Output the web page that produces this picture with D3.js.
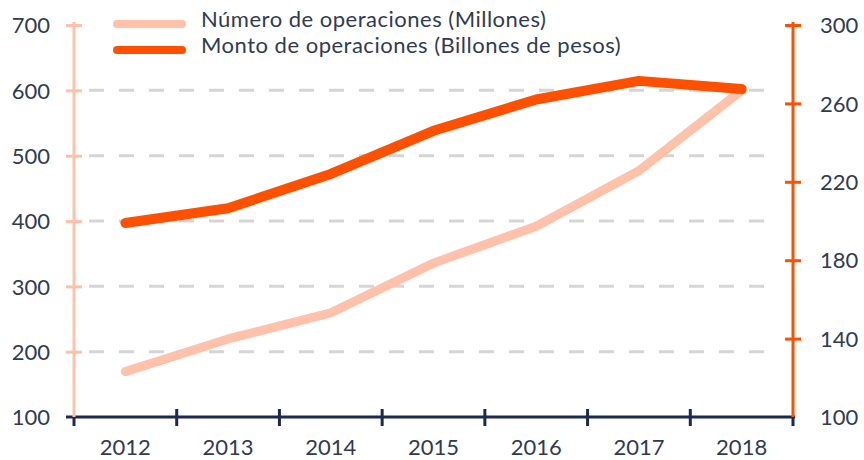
<!DOCTYPE html>
<html lang="es">
<head>
<meta charset="UTF-8">
<title>Operaciones</title>
<script src="https://d3js.org/d3.v7.min.js"></script>
<style>
    body { margin: 0; background: #fff; }
    svg text { font-family: Lato, "Open Sans", sans-serif; fill: #2f3b52; }
</style>
</head>
<body>
<div id="chart"></div>
<script>
    // datos
    const years = ["2012", "2013", "2014", "2015", "2016", "2017", "2018"];
    const numeroOps = [169.5, 219.5, 259.5, 335.5, 392, 477, 600];   // millones (eje izq.)
    const montoOps = [199, 206.5, 224, 246, 262, 271.5, 267.3];      // billones de pesos (eje der.)
    const leftTicks = [100, 200, 300, 400, 500, 600, 700];
    const rightTicks = [100, 140, 180, 220, 260, 300];
    const gridTicks = [200, 300, 400, 500, 600];
    const seriesNames = ["Número de operaciones (Millones)", "Monto de operaciones (Billones de pesos)"];

    const width = 864, height = 460;
    const mLeft = 74, mRight = 793, mTop = 22, mBottom = 417;
    const colLight = "#ffc1a9", colDark = "#ff5000", colAxis = "#1b2a4e";
    const fs = "22px";

    const svg = d3.select("#chart").append("svg")
        .attr("width", width).attr("height", height);

    const x = d3.scaleBand().domain(years).range([mLeft, mRight]);
    const yL = d3.scaleLinear().domain([100, 700]).range([mBottom, 25]);
    const yR = d3.scaleLinear().domain([100, 300]).range([mBottom, 25]);

    // rejilla punteada
    svg.append("g").selectAll("line").data(gridTicks).enter().append("line")
        .attr("x1", 89).attr("x2", 776)
        .attr("y1", d => yL(d)).attr("y2", d => yL(d))
        .attr("stroke", "#d5d5d5").attr("stroke-width", 3)
        .attr("stroke-dasharray", "15,15");

    // eje x
    const gx = svg.append("g");
    gx.append("line").attr("x1", 66).attr("x2", mRight + 2)
        .attr("y1", mBottom).attr("y2", mBottom)
        .attr("stroke", colAxis).attr("stroke-width", 3);
    const bounds = years.map(d => x(d)).concat([mRight]);
    gx.selectAll(".bt").data(bounds).enter().append("line")
        .attr("x1", d => d).attr("x2", d => d)
        .attr("y1", (d, i) => (i === 0 || i === bounds.length - 1) ? mBottom : mBottom - 8)
        .attr("y2", mBottom + 9)
        .attr("stroke", colAxis).attr("stroke-width", 3);
    gx.selectAll(".lbl").data(years).enter().append("text")
        .attr("x", d => x(d) + x.bandwidth() / 2).attr("y", 455)
        .attr("text-anchor", "middle").style("font-size", fs)
        .text(d => d);

    // eje izquierdo
    const axL = svg.append("g").attr("transform", `translate(${mLeft},0)`)
        .call(d3.axisLeft(yL).tickValues(leftTicks).tickSize(8).tickFormat(d3.format("d")));
    axL.select(".domain").attr("d", `M0,${mTop}V${mBottom}`)
        .attr("stroke", colLight).attr("stroke-width", 3);
    axL.selectAll(".tick line").attr("x1", 8).attr("x2", -8)
        .attr("stroke", colLight).attr("stroke-width", 3);
    axL.selectAll(".tick text").attr("x", -24).attr("dy", "0.35em")
        .style("font-size", fs).attr("font-family", null).attr("fill", null);

    // eje derecho
    const axR = svg.append("g").attr("transform", `translate(${mRight},0)`)
        .call(d3.axisRight(yR).tickValues(rightTicks).tickSize(8).tickFormat(d3.format("d")));
    axR.select(".domain").attr("d", `M0,${mTop}V${mBottom}`)
        .attr("stroke", colDark).attr("stroke-width", 3);
    axR.selectAll(".tick line").attr("x1", -8).attr("x2", 8)
        .attr("stroke", colDark).attr("stroke-width", 3);
    axR.selectAll(".tick text").attr("x", 27).attr("dy", "0.35em")
        .style("font-size", fs).attr("font-family", null).attr("fill", null);
    svg.selectAll(".tick").filter(d => d === 100).select("line").remove();

    // líneas
    const cx = d => x(d) + x.bandwidth() / 2;
    const lineL = d3.line().x((d, i) => cx(years[i])).y(d => yL(d));
    const lineR = d3.line().x((d, i) => cx(years[i])).y(d => yR(d));

    svg.append("path").datum(numeroOps).attr("d", lineL)
        .attr("fill", "none").attr("stroke", colLight).attr("stroke-width", 9)
        .attr("stroke-linecap", "round").attr("stroke-linejoin", "round");
    svg.append("path").datum(montoOps).attr("d", lineR)
        .attr("fill", "none").attr("stroke", colDark).attr("stroke-width", 10)
        .attr("stroke-linecap", "round").attr("stroke-linejoin", "round");

    // leyenda
    const legend = svg.append("g");
    [colLight, colDark].forEach((c, i) => {
        const ly = 24 + i * 26;
        legend.append("line").attr("x1", 117).attr("x2", 182)
            .attr("y1", ly).attr("y2", ly)
            .attr("stroke", c).attr("stroke-width", 8).attr("stroke-linecap", "round");
        legend.append("text").attr("x", 201).attr("y", ly + 3)
            .style("font-size", fs).style("letter-spacing", "0.5px")
            .text(seriesNames[i]);
    });
</script>
</body>
</html>
